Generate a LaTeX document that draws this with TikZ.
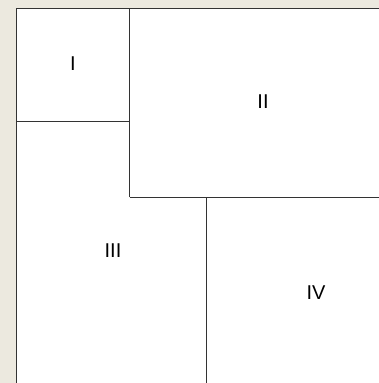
\documentclass[tikz,border=0pt]{standalone}
\usepackage{fontspec}
\setmainfont{Liberation Sans}
\definecolor{paper}{HTML}{ECE9DF}
\definecolor{rule}{HTML}{333333}

\begin{document}
\begin{tikzpicture}[x=0.75pt,y=-0.75pt]
  \tikzset{part/.style={font=\fontsize{15}{17}\selectfont}}
  \fill[paper] (0,0) rectangle (379,383);
  \useasboundingbox (0,0) rectangle (379,383);
  \fill[white] (16.5,8.5) rectangle (379,383);
  \draw[rule,line width=1.1pt] (16.5,383) -- (16.5,8.5) -- (379,8.5);
  \draw[rule,line width=0.7pt] (129.5,8.5) -- (129.5,197);
  \draw[rule,line width=0.7pt] (16.5,121.5) -- (129.5,121.5);
  \draw[rule,line width=0.7pt] (129.5,197) -- (379,197);
  \draw[rule,line width=0.7pt] (206,197) -- (206,383);
  \node[part] (one) at (73,64) {I};
  \node[part] (two) at (263,102) {II};
  \node[part] (three) at (113,251) {III};
  \node[part] (four) at (316,293) {IV};
\end{tikzpicture}
\end{document}
